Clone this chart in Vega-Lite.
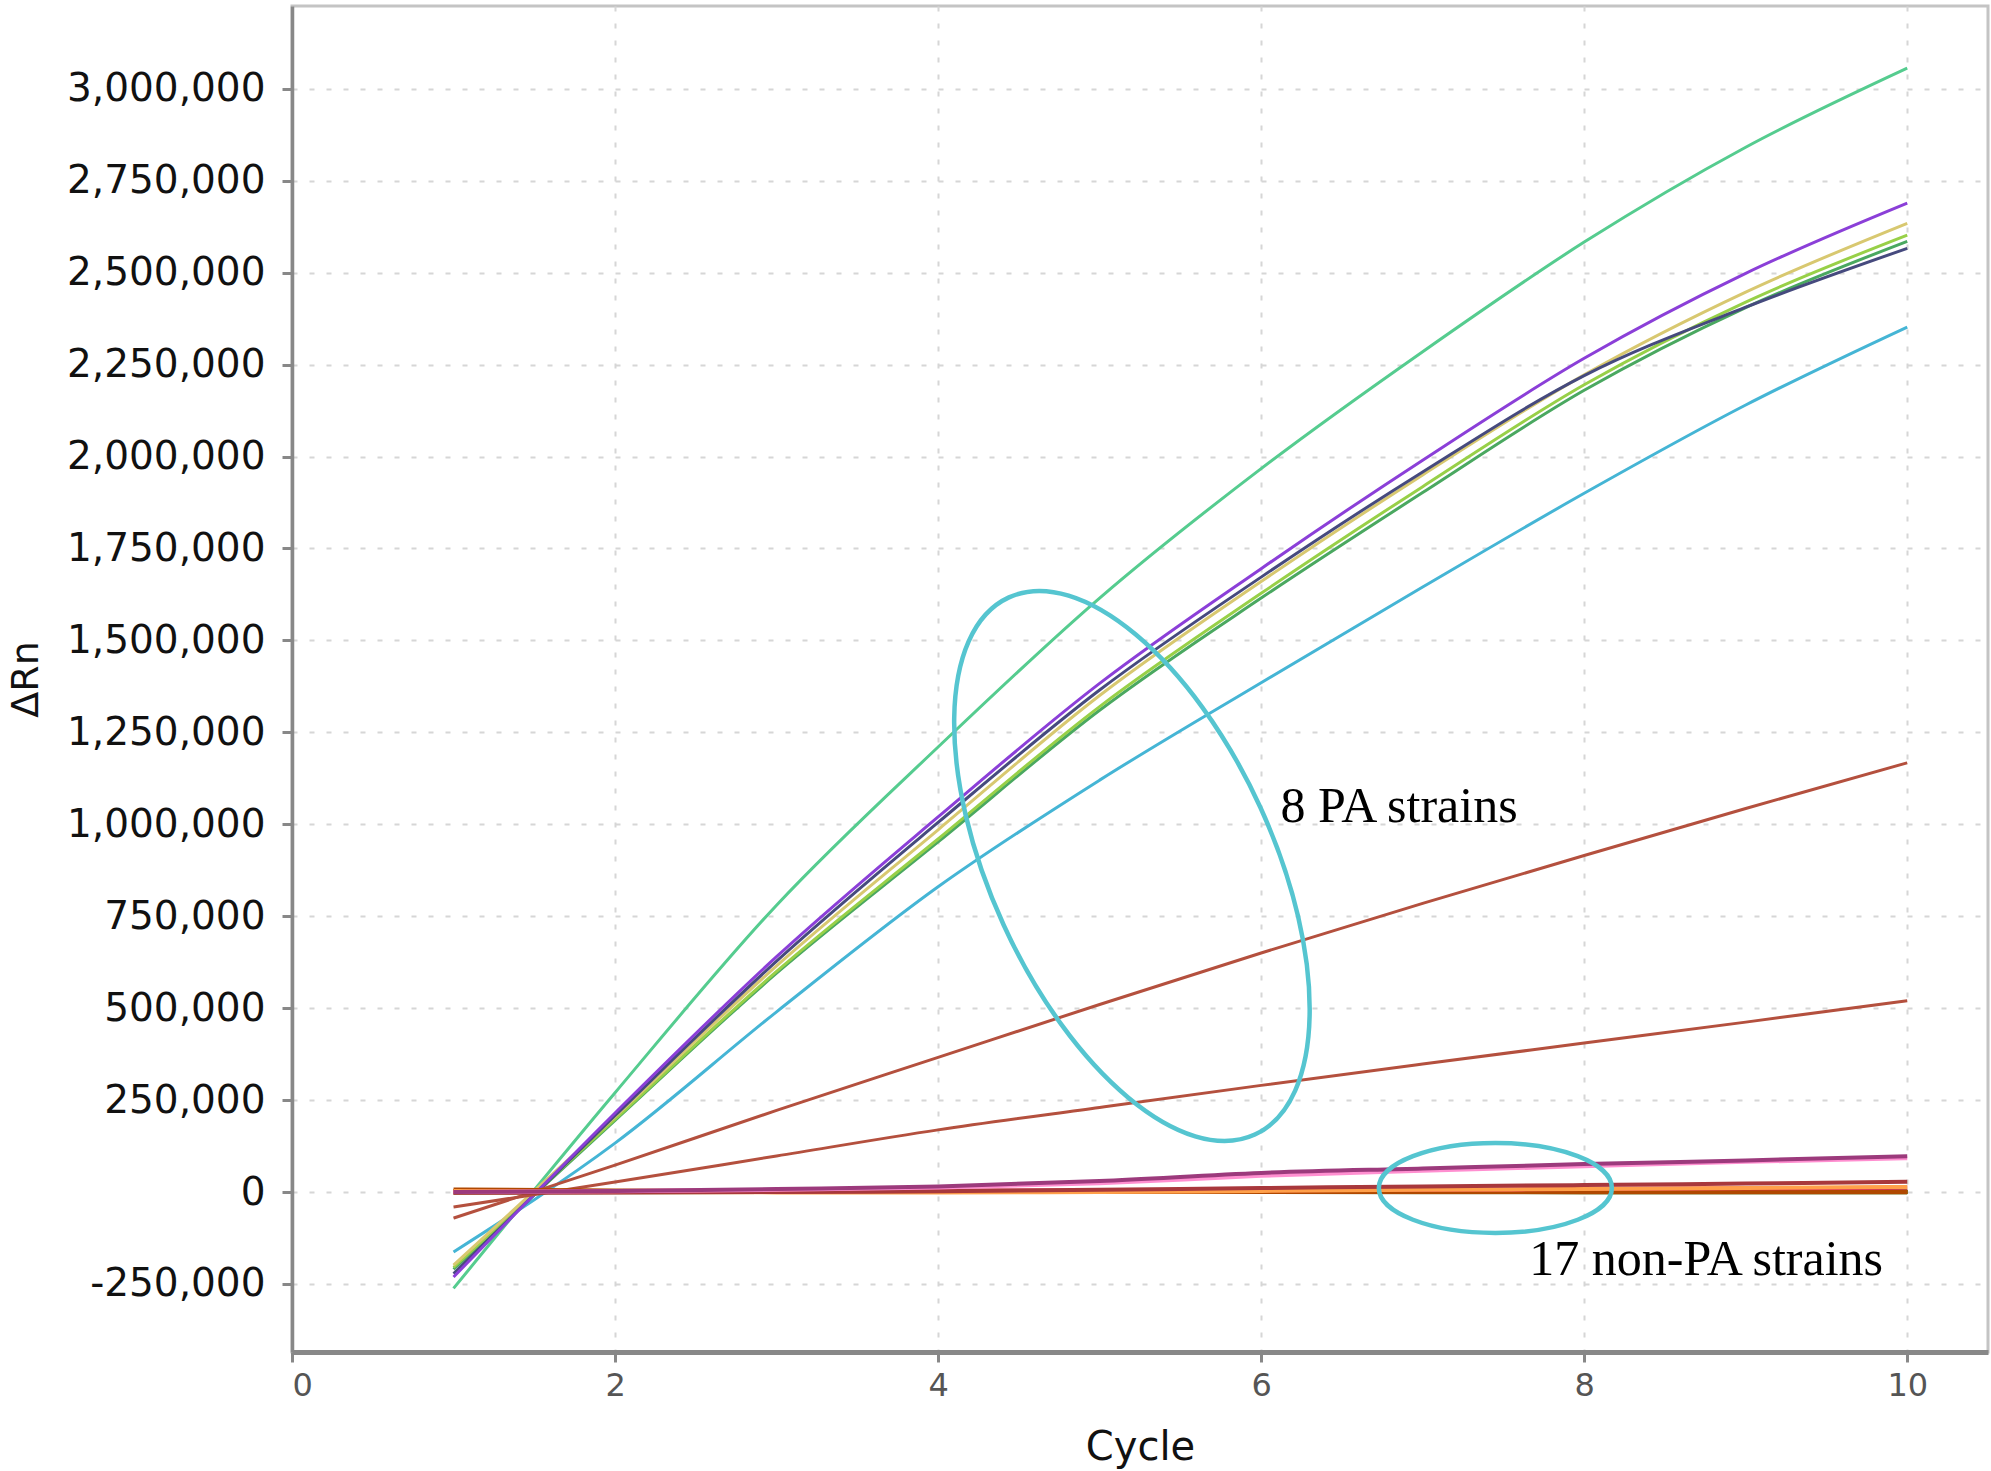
{
  "$schema": "https://vega.github.io/schema/vega-lite/v6.json",
  "width": 1696,
  "height": 1346,
  "autosize": {"type": "none"},
  "padding": {"left": 292, "top": 6, "right": 3, "bottom": 119},
  "background": "white",
  "config": {
    "locale": {"number": {"decimal": ".", "thousands": ",", "grouping": [3], "currency": ["$", ""], "minus": "-"}},
    "view": {"stroke": "#c4c4c4", "strokeWidth": 3},
    "axisX": {
      "grid": true, "gridColor": "#d6d6d6", "gridDash": [5, 12], "gridWidth": 2,
      "domainColor": "#888888", "domainWidth": 5,
      "tickColor": "#888888", "tickSize": 10, "tickWidth": 3,
      "labelFont": "DejaVu Sans", "labelFontSize": 32, "labelColor": "#555555", "labelPadding": 8,
      "titleFont": "DejaVu Sans", "titleFontSize": 40, "titleFontWeight": "normal", "titleColor": "#111111", "titlePadding": 26
    },
    "axisY": {
      "grid": true, "gridColor": "#d6d6d6", "gridDash": [5, 12], "gridWidth": 2,
      "domainColor": "#888888", "domainWidth": 3.5,
      "tickColor": "#888888", "tickSize": 10, "tickWidth": 3,
      "labelFont": "DejaVu Sans", "labelFontSize": 39, "labelColor": "#111111", "labelPadding": 17, "labelLimit": 400,
      "titleFont": "DejaVu Sans", "titleFontSize": 38, "titleFontWeight": "normal", "titleColor": "#111111",
      "titleX": -266, "titleBaseline": "middle"
    }
  },
  "datasets": {
    "curves": [
      {"s":"s01","g":"PA","c":1,"v":-262000},{"s":"s01","g":"PA","c":2,"v":270000},{"s":"s01","g":"PA","c":3,"v":780000},{"s":"s01","g":"PA","c":4,"v":1210000},{"s":"s01","g":"PA","c":5,"v":1615000},{"s":"s01","g":"PA","c":6,"v":1967000},{"s":"s01","g":"PA","c":7,"v":2285000},{"s":"s01","g":"PA","c":8,"v":2583000},{"s":"s01","g":"PA","c":9,"v":2841000},{"s":"s01","g":"PA","c":10,"v":3056000},
      {"s":"s02","g":"PA","c":1,"v":-163000},{"s":"s02","g":"PA","c":2,"v":133000},{"s":"s02","g":"PA","c":3,"v":490000},{"s":"s02","g":"PA","c":4,"v":830000},{"s":"s02","g":"PA","c":5,"v":1120000},{"s":"s02","g":"PA","c":6,"v":1385000},{"s":"s02","g":"PA","c":7,"v":1645000},{"s":"s02","g":"PA","c":8,"v":1900000},{"s":"s02","g":"PA","c":9,"v":2140000},{"s":"s02","g":"PA","c":10,"v":2352000},
      {"s":"s03","g":"PA","c":1,"v":-210000},{"s":"s03","g":"PA","c":2,"v":195000},{"s":"s03","g":"PA","c":3,"v":595000},{"s":"s03","g":"PA","c":4,"v":952000},{"s":"s03","g":"PA","c":5,"v":1310000},{"s":"s03","g":"PA","c":6,"v":1615000},{"s":"s03","g":"PA","c":7,"v":1902000},{"s":"s03","g":"PA","c":8,"v":2180000},{"s":"s03","g":"PA","c":9,"v":2405000},{"s":"s03","g":"PA","c":10,"v":2585000},
      {"s":"s04","g":"PA","c":1,"v":-205000},{"s":"s04","g":"PA","c":2,"v":198000},{"s":"s04","g":"PA","c":3,"v":600000},{"s":"s04","g":"PA","c":4,"v":960000},{"s":"s04","g":"PA","c":5,"v":1320000},{"s":"s04","g":"PA","c":6,"v":1628000},{"s":"s04","g":"PA","c":7,"v":1918000},{"s":"s04","g":"PA","c":8,"v":2195000},{"s":"s04","g":"PA","c":9,"v":2420000},{"s":"s04","g":"PA","c":10,"v":2602000},
      {"s":"s05","g":"PA","c":1,"v":-199000},{"s":"s05","g":"PA","c":2,"v":205000},{"s":"s05","g":"PA","c":3,"v":615000},{"s":"s05","g":"PA","c":4,"v":985000},{"s":"s05","g":"PA","c":5,"v":1350000},{"s":"s05","g":"PA","c":6,"v":1660000},{"s":"s05","g":"PA","c":7,"v":1950000},{"s":"s05","g":"PA","c":8,"v":2222000},{"s":"s05","g":"PA","c":9,"v":2447000},{"s":"s05","g":"PA","c":10,"v":2634000},
      {"s":"s06","g":"PA","c":1,"v":-222000},{"s":"s06","g":"PA","c":2,"v":208000},{"s":"s06","g":"PA","c":3,"v":628000},{"s":"s06","g":"PA","c":4,"v":1005000},{"s":"s06","g":"PA","c":5,"v":1365000},{"s":"s06","g":"PA","c":6,"v":1672000},{"s":"s06","g":"PA","c":7,"v":1958000},{"s":"s06","g":"PA","c":8,"v":2220000},{"s":"s06","g":"PA","c":9,"v":2406000},{"s":"s06","g":"PA","c":10,"v":2566000},
      {"s":"s07","g":"PA","c":1,"v":-231000},{"s":"s07","g":"PA","c":2,"v":215000},{"s":"s07","g":"PA","c":3,"v":640000},{"s":"s07","g":"PA","c":4,"v":1020000},{"s":"s07","g":"PA","c":5,"v":1383000},{"s":"s07","g":"PA","c":6,"v":1695000},{"s":"s07","g":"PA","c":7,"v":1990000},{"s":"s07","g":"PA","c":8,"v":2267000},{"s":"s07","g":"PA","c":9,"v":2498000},{"s":"s07","g":"PA","c":10,"v":2689000},
      {"s":"s08","g":"PA","c":1,"v":-71000},{"s":"s08","g":"PA","c":2,"v":73000},{"s":"s08","g":"PA","c":3,"v":222000},{"s":"s08","g":"PA","c":4,"v":366000},{"s":"s08","g":"PA","c":5,"v":510000},{"s":"s08","g":"PA","c":6,"v":650000},{"s":"s08","g":"PA","c":7,"v":785000},{"s":"s08","g":"PA","c":8,"v":915000},{"s":"s08","g":"PA","c":9,"v":1043000},{"s":"s08","g":"PA","c":10,"v":1167000},
      {"s":"s09","g":"PA","c":1,"v":-41000},{"s":"s09","g":"PA","c":2,"v":27000},{"s":"s09","g":"PA","c":3,"v":98000},{"s":"s09","g":"PA","c":4,"v":169000},{"s":"s09","g":"PA","c":5,"v":230000},{"s":"s09","g":"PA","c":6,"v":290000},{"s":"s09","g":"PA","c":7,"v":348000},{"s":"s09","g":"PA","c":8,"v":405000},{"s":"s09","g":"PA","c":9,"v":462000},{"s":"s09","g":"PA","c":10,"v":520000},
      {"s":"s10","g":"NP","c":1,"v":0},{"s":"s10","g":"NP","c":2,"v":0},{"s":"s10","g":"NP","c":3,"v":0},{"s":"s10","g":"NP","c":4,"v":0},{"s":"s10","g":"NP","c":5,"v":0},{"s":"s10","g":"NP","c":6,"v":0},{"s":"s10","g":"NP","c":7,"v":0},{"s":"s10","g":"NP","c":8,"v":0},{"s":"s10","g":"NP","c":9,"v":0},{"s":"s10","g":"NP","c":10,"v":0},
      {"s":"s11","g":"NP","c":1,"v":1000},{"s":"s11","g":"NP","c":2,"v":500},{"s":"s11","g":"NP","c":3,"v":500},{"s":"s11","g":"NP","c":4,"v":0},{"s":"s11","g":"NP","c":5,"v":0},{"s":"s11","g":"NP","c":6,"v":0},{"s":"s11","g":"NP","c":7,"v":0},{"s":"s11","g":"NP","c":8,"v":0},{"s":"s11","g":"NP","c":9,"v":0},{"s":"s11","g":"NP","c":10,"v":0},
      {"s":"s12","g":"NP","c":1,"v":-1000},{"s":"s12","g":"NP","c":2,"v":-500},{"s":"s12","g":"NP","c":3,"v":0},{"s":"s12","g":"NP","c":4,"v":0},{"s":"s12","g":"NP","c":5,"v":0},{"s":"s12","g":"NP","c":6,"v":0},{"s":"s12","g":"NP","c":7,"v":0},{"s":"s12","g":"NP","c":8,"v":0},{"s":"s12","g":"NP","c":9,"v":500},{"s":"s12","g":"NP","c":10,"v":500},
      {"s":"s13","g":"NP","c":1,"v":2000},{"s":"s13","g":"NP","c":2,"v":1000},{"s":"s13","g":"NP","c":3,"v":1000},{"s":"s13","g":"NP","c":4,"v":1000},{"s":"s13","g":"NP","c":5,"v":1000},{"s":"s13","g":"NP","c":6,"v":1000},{"s":"s13","g":"NP","c":7,"v":1000},{"s":"s13","g":"NP","c":8,"v":1000},{"s":"s13","g":"NP","c":9,"v":1000},{"s":"s13","g":"NP","c":10,"v":1000},
      {"s":"s14","g":"NP","c":1,"v":500},{"s":"s14","g":"NP","c":2,"v":500},{"s":"s14","g":"NP","c":3,"v":500},{"s":"s14","g":"NP","c":4,"v":500},{"s":"s14","g":"NP","c":5,"v":1000},{"s":"s14","g":"NP","c":6,"v":1000},{"s":"s14","g":"NP","c":7,"v":1000},{"s":"s14","g":"NP","c":8,"v":1500},{"s":"s14","g":"NP","c":9,"v":2000},{"s":"s14","g":"NP","c":10,"v":2000},
      {"s":"s15","g":"NP","c":1,"v":3000},{"s":"s15","g":"NP","c":2,"v":2000},{"s":"s15","g":"NP","c":3,"v":1000},{"s":"s15","g":"NP","c":4,"v":1000},{"s":"s15","g":"NP","c":5,"v":500},{"s":"s15","g":"NP","c":6,"v":500},{"s":"s15","g":"NP","c":7,"v":500},{"s":"s15","g":"NP","c":8,"v":0},{"s":"s15","g":"NP","c":9,"v":0},{"s":"s15","g":"NP","c":10,"v":0},
      {"s":"s16","g":"NP","c":1,"v":0},{"s":"s16","g":"NP","c":2,"v":500},{"s":"s16","g":"NP","c":3,"v":500},{"s":"s16","g":"NP","c":4,"v":500},{"s":"s16","g":"NP","c":5,"v":1000},{"s":"s16","g":"NP","c":6,"v":1000},{"s":"s16","g":"NP","c":7,"v":1000},{"s":"s16","g":"NP","c":8,"v":1000},{"s":"s16","g":"NP","c":9,"v":1000},{"s":"s16","g":"NP","c":10,"v":1000},
      {"s":"s17","g":"NP","c":1,"v":-1000},{"s":"s17","g":"NP","c":2,"v":0},{"s":"s17","g":"NP","c":3,"v":0},{"s":"s17","g":"NP","c":4,"v":0},{"s":"s17","g":"NP","c":5,"v":0},{"s":"s17","g":"NP","c":6,"v":0},{"s":"s17","g":"NP","c":7,"v":0},{"s":"s17","g":"NP","c":8,"v":0},{"s":"s17","g":"NP","c":9,"v":0},{"s":"s17","g":"NP","c":10,"v":0},
      {"s":"s18","g":"NP","c":1,"v":1000},{"s":"s18","g":"NP","c":2,"v":0},{"s":"s18","g":"NP","c":3,"v":0},{"s":"s18","g":"NP","c":4,"v":0},{"s":"s18","g":"NP","c":5,"v":0},{"s":"s18","g":"NP","c":6,"v":0},{"s":"s18","g":"NP","c":7,"v":0},{"s":"s18","g":"NP","c":8,"v":0},{"s":"s18","g":"NP","c":9,"v":0},{"s":"s18","g":"NP","c":10,"v":0},
      {"s":"s19","g":"NP","c":1,"v":1500},{"s":"s19","g":"NP","c":2,"v":1000},{"s":"s19","g":"NP","c":3,"v":1000},{"s":"s19","g":"NP","c":4,"v":500},{"s":"s19","g":"NP","c":5,"v":500},{"s":"s19","g":"NP","c":6,"v":500},{"s":"s19","g":"NP","c":7,"v":500},{"s":"s19","g":"NP","c":8,"v":500},{"s":"s19","g":"NP","c":9,"v":500},{"s":"s19","g":"NP","c":10,"v":500},
      {"s":"s20","g":"NP","c":1,"v":0},{"s":"s20","g":"NP","c":2,"v":0},{"s":"s20","g":"NP","c":3,"v":0},{"s":"s20","g":"NP","c":4,"v":0},{"s":"s20","g":"NP","c":5,"v":0},{"s":"s20","g":"NP","c":6,"v":0},{"s":"s20","g":"NP","c":7,"v":-500},{"s":"s20","g":"NP","c":8,"v":-1000},{"s":"s20","g":"NP","c":9,"v":-1000},{"s":"s20","g":"NP","c":10,"v":-1500},
      {"s":"s21","g":"NP","c":1,"v":7000},{"s":"s21","g":"NP","c":2,"v":4000},{"s":"s21","g":"NP","c":3,"v":2000},{"s":"s21","g":"NP","c":4,"v":1000},{"s":"s21","g":"NP","c":5,"v":0},{"s":"s21","g":"NP","c":6,"v":0},{"s":"s21","g":"NP","c":7,"v":0},{"s":"s21","g":"NP","c":8,"v":0},{"s":"s21","g":"NP","c":9,"v":0},{"s":"s21","g":"NP","c":10,"v":0},
      {"s":"s22","g":"NP","c":1,"v":1000},{"s":"s22","g":"NP","c":2,"v":3000},{"s":"s22","g":"NP","c":3,"v":4000},{"s":"s22","g":"NP","c":4,"v":4000},{"s":"s22","g":"NP","c":5,"v":4000},{"s":"s22","g":"NP","c":6,"v":5000},{"s":"s22","g":"NP","c":7,"v":6000},{"s":"s22","g":"NP","c":8,"v":8000},{"s":"s22","g":"NP","c":9,"v":10000},{"s":"s22","g":"NP","c":10,"v":12000},
      {"s":"s23","g":"NP","c":1,"v":3000},{"s":"s23","g":"NP","c":2,"v":0},{"s":"s23","g":"NP","c":3,"v":-1000},{"s":"s23","g":"NP","c":4,"v":-1000},{"s":"s23","g":"NP","c":5,"v":0},{"s":"s23","g":"NP","c":6,"v":3000},{"s":"s23","g":"NP","c":7,"v":6000},{"s":"s23","g":"NP","c":8,"v":8000},{"s":"s23","g":"NP","c":9,"v":11000},{"s":"s23","g":"NP","c":10,"v":14000},
      {"s":"s24","g":"NP","c":1,"v":-2000},{"s":"s24","g":"NP","c":2,"v":-1000},{"s":"s24","g":"NP","c":3,"v":0},{"s":"s24","g":"NP","c":4,"v":2000},{"s":"s24","g":"NP","c":5,"v":6000},{"s":"s24","g":"NP","c":6,"v":11000},{"s":"s24","g":"NP","c":7,"v":15000},{"s":"s24","g":"NP","c":8,"v":19000},{"s":"s24","g":"NP","c":9,"v":23000},{"s":"s24","g":"NP","c":10,"v":28000},
      {"s":"s25","g":"NP","c":1,"v":0},{"s":"s25","g":"NP","c":2,"v":2000},{"s":"s25","g":"NP","c":3,"v":6000},{"s":"s25","g":"NP","c":4,"v":12000},{"s":"s25","g":"NP","c":5,"v":24000},{"s":"s25","g":"NP","c":6,"v":44000},{"s":"s25","g":"NP","c":7,"v":58000},{"s":"s25","g":"NP","c":8,"v":70000},{"s":"s25","g":"NP","c":9,"v":82000},{"s":"s25","g":"NP","c":10,"v":92000},
      {"s":"s26","g":"NP","c":1,"v":0},{"s":"s26","g":"NP","c":2,"v":3000},{"s":"s26","g":"NP","c":3,"v":8000},{"s":"s26","g":"NP","c":4,"v":15000},{"s":"s26","g":"NP","c":5,"v":30000},{"s":"s26","g":"NP","c":6,"v":52000},{"s":"s26","g":"NP","c":7,"v":64000},{"s":"s26","g":"NP","c":8,"v":76000},{"s":"s26","g":"NP","c":9,"v":86000},{"s":"s26","g":"NP","c":10,"v":97000}
    ],
    "notes": [
      {"kind": "PA", "c": 5.2, "v": 886600},
      {"kind": "NP", "c": 7.45, "v": 11000},
      {"kind": "text", "c": 6.12, "v": 1046000, "label": "8 PA strains"},
      {"kind": "text", "c": 7.66, "v": -186000, "label": "17 non-PA strains"}
    ]
  },
  "encoding": {
    "x": {
      "field": "c", "type": "quantitative",
      "scale": {"domain": [0, 10.5], "nice": false, "zero": false},
      "axis": {"values": [0, 2, 4, 6, 8, 10], "title": "Cycle"}
    },
    "y": {
      "field": "v", "type": "quantitative",
      "scale": {"domain": [-435000, 3225000], "nice": false, "zero": false},
      "axis": {
        "values": [-250000, 0, 250000, 500000, 750000, 1000000, 1250000, 1500000, 1750000, 2000000, 2250000, 2500000, 2750000, 3000000],
        "format": ",.0f", "title": "ΔRn"
      }
    }
  },
  "layer": [
    {
      "data": {"name": "curves"},
      "transform": [{"filter": "datum.g == 'PA'"}],
      "mark": {"type": "line", "strokeWidth": 3, "interpolate": "monotone"},
      "encoding": {
        "color": {
          "field": "s", "type": "nominal", "legend": null,
          "scale": {
            "domain": ["s01","s02","s03","s04","s05","s06","s07","s08","s09","s10","s11","s12","s13","s14","s15","s16","s17","s18","s19","s20","s21","s22","s23","s24","s25","s26"],
            "range": ["#55cc8f","#45b5d5","#4aa860","#98d048","#d8c870","#464a7e","#8b3fd8","#b4503e","#b4503e","#8a6a10","#a07010","#7a6410","#c07020","#907018","#b06a18","#8a6a10","#7a6410","#9a6812","#846612","#7a6410","#b04800","#e0285a","#ffa04a","#a8383c","#ff8fd0","#9c3a7c"]
          }
        }
      }
    },
    {
      "data": {"name": "curves"},
      "transform": [{"filter": "datum.g == 'NP'"}],
      "mark": {"type": "line", "strokeWidth": 4, "interpolate": "monotone"},
      "encoding": {
        "color": {
          "field": "s", "type": "nominal", "legend": null,
          "scale": {
            "domain": ["s01","s02","s03","s04","s05","s06","s07","s08","s09","s10","s11","s12","s13","s14","s15","s16","s17","s18","s19","s20","s21","s22","s23","s24","s25","s26"],
            "range": ["#55cc8f","#45b5d5","#4aa860","#98d048","#d8c870","#464a7e","#8b3fd8","#b4503e","#b4503e","#8a6a10","#a07010","#7a6410","#c07020","#907018","#b06a18","#8a6a10","#7a6410","#9a6812","#846612","#7a6410","#b04800","#e0285a","#ffa04a","#a8383c","#ff8fd0","#9c3a7c"]
          }
        }
      }
    },
    {
      "data": {"name": "notes"},
      "transform": [{"filter": "datum.kind == 'PA'"}],
      "mark": {
        "type": "point",
        "shape": "M1,0C1,0.264,0.552,0.478,0,0.478C-0.552,0.478,-1,0.264,-1,0C-1,-0.264,-0.552,-0.478,0,-0.478C0.552,-0.478,1,-0.264,1,0Z",
        "size": 349000, "angle": 65.4, "filled": false,
        "color": "#55c5d0", "stroke": "#55c5d0", "strokeWidth": 4.5, "opacity": 1
      }
    },
    {
      "data": {"name": "notes"},
      "transform": [{"filter": "datum.kind == 'NP'"}],
      "mark": {
        "type": "point",
        "shape": "M1,0C1,0.213,0.552,0.386,0,0.386C-0.552,0.386,-1,0.213,-1,0C-1,-0.213,-0.552,-0.386,0,-0.386C0.552,-0.386,1,-0.213,1,0Z",
        "size": 54300, "angle": 0, "filled": false,
        "color": "#55c5d0", "stroke": "#55c5d0", "strokeWidth": 4.5, "opacity": 1
      }
    },
    {
      "data": {"name": "notes"},
      "transform": [{"filter": "datum.kind == 'text'"}],
      "mark": {"type": "text", "font": "Liberation Serif", "fontSize": 50, "align": "left", "baseline": "middle", "color": "#000000"},
      "encoding": {"text": {"field": "label", "type": "nominal"}}
    }
  ]
}
